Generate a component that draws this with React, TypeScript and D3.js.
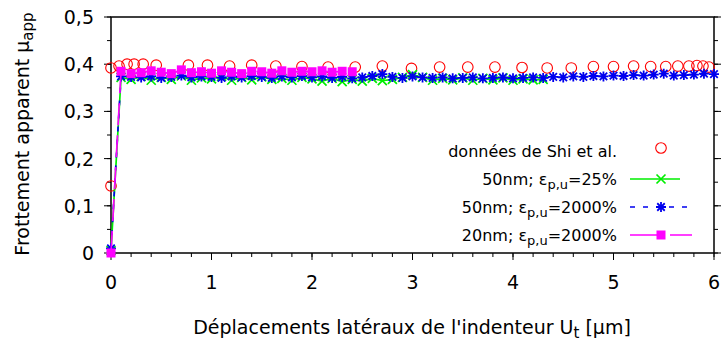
import React from "react";
import * as d3 from "d3";

const shiX = [0.0, 0.0, 0.08, 0.16, 0.23, 0.32, 0.45, 0.77, 0.96, 1.18, 1.40, 1.64, 1.90, 2.16, 2.43, 2.70, 2.99, 3.27, 3.55, 3.82, 4.09, 4.34, 4.58, 4.80, 5.00, 5.20, 5.37, 5.52, 5.64, 5.75, 5.83, 5.89, 5.95];
const shiY = [0.142, 0.392, 0.396, 0.400, 0.400, 0.400, 0.398, 0.398, 0.398, 0.396, 0.398, 0.396, 0.395, 0.394, 0.394, 0.396, 0.391, 0.394, 0.394, 0.394, 0.393, 0.392, 0.392, 0.395, 0.395, 0.396, 0.395, 0.395, 0.396, 0.396, 0.397, 0.396, 0.394];

const greenX = [0.0, 0.1, 0.2, 0.3, 0.4, 0.5, 0.6, 0.7, 0.8, 0.9, 1.0, 1.1, 1.2, 1.3, 1.4, 1.5, 1.6, 1.7, 1.8, 1.9, 2.0, 2.1, 2.2, 2.3, 2.4, 2.5, 2.6, 2.7, 2.8, 2.9, 3.0, 3.1, 3.2, 3.3, 3.4, 3.5, 3.6, 3.7, 3.8, 3.9, 4.0, 4.1, 4.2, 4.3];
const greenY = [0.005, 0.372, 0.368, 0.374, 0.366, 0.372, 0.368, 0.375, 0.366, 0.371, 0.369, 0.374, 0.366, 0.372, 0.367, 0.373, 0.368, 0.370, 0.366, 0.372, 0.369, 0.364, 0.370, 0.363, 0.368, 0.364, 0.370, 0.365, 0.368, 0.372, 0.378, 0.372, 0.366, 0.370, 0.367, 0.371, 0.366, 0.370, 0.367, 0.371, 0.366, 0.369, 0.367, 0.368];

const blueX = [0.0, 0.1, 0.2, 0.3, 0.4, 0.5, 0.6, 0.7, 0.8, 0.9, 1.0, 1.1, 1.2, 1.3, 1.4, 1.5, 1.6, 1.7, 1.8, 1.9, 2.0, 2.1, 2.2, 2.3, 2.4, 2.5, 2.6, 2.7, 2.8, 2.9, 3.0, 3.1, 3.2, 3.3, 3.4, 3.5, 3.6, 3.7, 3.8, 3.9, 4.0, 4.1, 4.2, 4.3, 4.4, 4.5, 4.6, 4.7, 4.8, 4.9, 5.0, 5.1, 5.2, 5.3, 5.4, 5.5, 5.6, 5.7, 5.8, 5.9, 6.0];
const blueY = [0.01, 0.374, 0.373, 0.372, 0.374, 0.371, 0.373, 0.376, 0.372, 0.374, 0.373, 0.371, 0.374, 0.372, 0.375, 0.373, 0.371, 0.374, 0.372, 0.375, 0.372, 0.374, 0.371, 0.373, 0.370, 0.372, 0.375, 0.379, 0.373, 0.371, 0.374, 0.372, 0.371, 0.372, 0.370, 0.371, 0.372, 0.370, 0.371, 0.372, 0.370, 0.371, 0.372, 0.371, 0.373, 0.372, 0.374, 0.373, 0.375, 0.374, 0.376, 0.375, 0.377, 0.376, 0.378, 0.380, 0.376, 0.377, 0.378, 0.380, 0.379];

const magX = [0.0, 0.1, 0.2, 0.3, 0.4, 0.5, 0.6, 0.7, 0.8, 0.9, 1.0, 1.1, 1.2, 1.3, 1.4, 1.5, 1.6, 1.7, 1.8, 1.9, 2.0, 2.1, 2.2, 2.3, 2.4];
const magY = [0.0, 0.385, 0.380, 0.382, 0.386, 0.383, 0.380, 0.388, 0.382, 0.384, 0.381, 0.386, 0.383, 0.380, 0.385, 0.384, 0.381, 0.386, 0.383, 0.385, 0.384, 0.386, 0.383, 0.385, 0.384];

const xMajor = [0, 1, 2, 3, 4, 5, 6];
const yMajor = [0, 0.1, 0.2, 0.3, 0.4, 0.5];
const yLabels = ["0", "0,1", "0,2", "0,3", "0,4", "0,5"];

const FONT = "DejaVu Sans, Verdana, sans-serif";

const L = 111, R = 714, T = 17, B = 253;

export default function App() {
  const x = d3.scaleLinear().domain([0, 6]).range([L, R]);
  const y = d3.scaleLinear().domain([0, 0.5]).range([B, T]);

  const xMinor = d3.range(0, 6.0001, 0.2);
  const yMinor = d3.range(0, 0.5001, 0.05);

  const pts = (xs: number[], ys: number[]) => xs.map((v, i) => [x(v), y(ys[i])] as [number, number]);
  const line = d3.line();

  const green = pts(greenX, greenY);
  const blue = pts(blueX, blueY);
  const mag = pts(magX, magY);
  const red = pts(shiX, shiY);

  const xMark = (cx: number, cy: number, k: string, s = 4.5) => (
    <path key={k} d={`M${cx - s},${cy - s}L${cx + s},${cy + s}M${cx - s},${cy + s}L${cx + s},${cy - s}`} stroke="#00ee00" strokeWidth={1.7} fill="none" />
  );
  const star = (cx: number, cy: number, k: string, s = 5) => (
    <path key={k} d={`M${cx - s},${cy}L${cx + s},${cy}M${cx},${cy - s}L${cx},${cy + s}M${cx - s * 0.75},${cy - s * 0.75}L${cx + s * 0.75},${cy + s * 0.75}M${cx - s * 0.75},${cy + s * 0.75}L${cx + s * 0.75},${cy - s * 0.75}`} stroke="#0000ee" strokeWidth={1.8} fill="none" />
  );
  const sq = (cx: number, cy: number, k: string, s = 4.5) => (
    <rect key={k} x={cx - s} y={cy - s} width={2 * s} height={2 * s} fill="#ff00ff" />
  );
  const circ = (cx: number, cy: number, k: string) => (
    <circle key={k} cx={cx} cy={cy} r={5.3} fill="none" stroke="#ff0000" strokeWidth={1.1} />
  );

  const legX1 = 630, legX2 = 692, legM = 661;
  const legRows = [151, 179, 207, 235];
  const textX = 617;

  return (
    <svg width={721} height={345} style={{ position: "absolute", left: 0, top: 0, background: "#fff" }} fontFamily={FONT}>
      <rect x={0} y={0} width={721} height={345} fill="#fff" />
      {/* frame */}
      <rect x={L} y={T} width={R - L} height={B - T} fill="none" stroke="#000" strokeWidth={1.5} />
      {/* x ticks */}
      {xMinor.map((v, i) => (
        <line key={"xm" + i} x1={x(v)} x2={x(v)} y1={B} y2={B + 4} stroke="#000" strokeWidth={1} />
      ))}
      {xMajor.map((v) => (
        <line key={"xM" + v} x1={x(v)} x2={x(v)} y1={B} y2={B + 7} stroke="#000" strokeWidth={1} />
      ))}
      {xMajor.map((v) => (
        <text key={"xl" + v} x={x(v)} y={289} textAnchor="middle" fontSize={19} fill="#000">{v}</text>
      ))}
      {/* y ticks */}
      {yMinor.map((v, i) => (
        <g key={"ym" + i}>
          <line x1={L - 4} x2={L} y1={y(v)} y2={y(v)} stroke="#000" strokeWidth={1} />
          <line x1={R} x2={R + 4} y1={y(v)} y2={y(v)} stroke="#000" strokeWidth={1} />
        </g>
      ))}
      {yMajor.map((v) => (
        <g key={"yM" + v}>
          <line x1={L - 7} x2={L} y1={y(v)} y2={y(v)} stroke="#000" strokeWidth={1} />
          <line x1={R} x2={R + 7} y1={y(v)} y2={y(v)} stroke="#000" strokeWidth={1} />
        </g>
      ))}
      {yMajor.map((v, i) => (
        <text key={"yl" + v} x={94} y={y(v) + 7} textAnchor="end" fontSize={19} fill="#000">{yLabels[i]}</text>
      ))}
      {/* axis titles */}
      <text x={412} y={334} textAnchor="middle" fontSize={19} fill="#000">
        Déplacements latéraux de l'indenteur U<tspan fontSize={15} dy={4}>t</tspan><tspan dy={-4}> [μm]</tspan>
      </text>
      <text transform={`translate(29,${134}) rotate(-90)`} textAnchor="middle" fontSize={19} fill="#000">
        Frottement apparent μ<tspan fontSize={15} dy={4}>app</tspan>
      </text>

      {/* data: red circles */}
      {red.map((p, i) => circ(p[0], p[1], "c" + i))}
      {/* green */}
      <path d={line(green) || ""} fill="none" stroke="#00ee00" strokeWidth={1.7} />
      {green.map((p, i) => xMark(p[0], p[1], "g" + i))}
      {/* blue */}
      <path d={line(blue) || ""} fill="none" stroke="#0000ee" strokeWidth={1.7} strokeDasharray="5,8" />
      {blue.map((p, i) => star(p[0], p[1], "b" + i))}
      {/* magenta */}
      <path d={line(mag) || ""} fill="none" stroke="#ff00ff" strokeWidth={1.7} strokeDasharray="22,10" />
      {mag.map((p, i) => sq(p[0], p[1], "m" + i))}

      {/* legend */}
      <g fontSize={16} fill="#000">
        <text x={textX} y={legRows[0] + 6} textAnchor="end">données de Shi et al.</text>
        <text x={textX} y={legRows[1] + 6} textAnchor="end">50nm; ε<tspan fontSize={13} dy={4}>p,u</tspan><tspan dy={-4}>=25%</tspan></text>
        <text x={textX} y={legRows[2] + 6} textAnchor="end">50nm; ε<tspan fontSize={13} dy={4}>p,u</tspan><tspan dy={-4}>=2000%</tspan></text>
        <text x={textX} y={legRows[3] + 6} textAnchor="end">20nm; ε<tspan fontSize={13} dy={4}>p,u</tspan><tspan dy={-4}>=2000%</tspan></text>
      </g>
      {circ(legM, legRows[0] - 3, "lc")}
      <line x1={legX1} x2={legX2 - 12} y1={legRows[1]} y2={legRows[1]} stroke="#00ee00" strokeWidth={1.7} />
      {xMark(legM, legRows[1], "lg")}
      <line x1={legX1} x2={legX2} y1={legRows[2]} y2={legRows[2]} stroke="#0000ee" strokeWidth={1.7} strokeDasharray="5,8" />
      {star(legM, legRows[2], "lb")}
      <line x1={legX1} x2={legX2} y1={legRows[3]} y2={legRows[3]} stroke="#ff00ff" strokeWidth={1.7} strokeDasharray="28,12" />
      {sq(legM, legRows[3], "lm")}
    </svg>
  );
}
